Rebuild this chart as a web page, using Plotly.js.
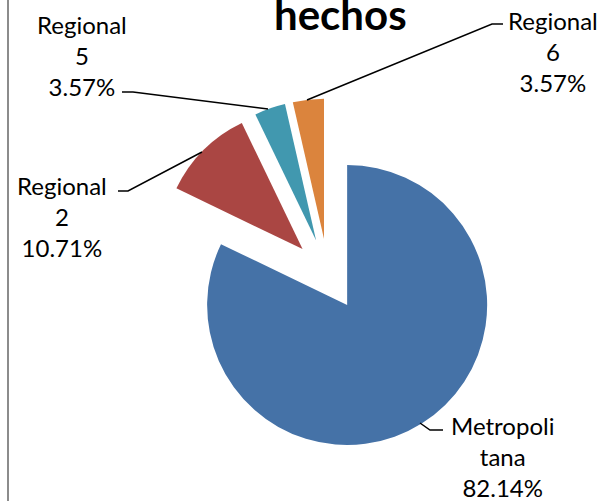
<!DOCTYPE html>
<html>
<head>
<meta charset="utf-8">
<script src="https://cdn.plot.ly/plotly-3.0.1.min.js"></script>
<style>html,body{margin:0;padding:0;background:#fff;}#chart{width:604px;height:501px;}</style>
</head>
<body>
<div id="chart"></div>
<script>
const categories = ["Metropolitana", "Regional 2", "Regional 5", "Regional 6"];
const labelTexts = ["Metropoli<br>tana", "Regional<br>2", "Regional<br>5", "Regional<br>6"];
const values = [23, 3, 1, 1];
const colors = ["#4572A7", "#AA4643", "#4198AF", "#DB843D"];
const titleText = "hechos";

const W = 604, H = 501;
const px = x => x / W;
const py = y => 1 - y / H;

const total = values.reduce((a, b) => a + b, 0);
const pct = values.map(v => (100 * v / total).toFixed(2) + "%");

// label block centres (pixels)
const labelPos = [[502, 456], [62, 216], [82, 56], [553, 51]];
const leaders = [
  [[443, 430], [430, 430], [420, 423]],
  [[118, 191], [128, 191], [202, 152]],
  [[122, 92], [133, 92], [268, 109]],
  [[503, 24], [492, 24], [307, 100]]
];

const annotations = categories.map((c, i) => ({
  xref: "paper", yref: "paper",
  x: px(labelPos[i][0]), y: py(labelPos[i][1]),
  xanchor: "center", yanchor: "middle",
  text: labelTexts[i] + "<br>" + pct[i],
  showarrow: false,
  align: "center",
  font: {family: "Lato, Carlito, sans-serif", size: 24, color: "#000"}
}));
annotations.push({
  xref: "paper", yref: "paper", x: px(340), y: py(14),
  xanchor: "center", yanchor: "middle",
  text: "<b>" + titleText + "</b>", showarrow: false,
  font: {family: "Lato, Carlito, sans-serif", size: 42, color: "#000"}
});

const shapes = leaders.map(pts => ({
  type: "path", xref: "paper", yref: "paper",
  path: "M" + pts.map(p => px(p[0]) + "," + py(p[1])).join(" L"),
  line: {color: "#000", width: 1.5}
}));
// frame line on the left
shapes.push({type: "line", xref: "paper", yref: "paper", x0: px(8), x1: px(8), y0: 0, y1: 1,
  line: {color: "#8c8c8c", width: 2}});

const trace = {
  type: "pie",
  labels: categories,
  values: values,
  sort: false,
  direction: "clockwise",
  rotation: 0,
  pull: [0.257, 0.257, 0.257, 0.257],
  marker: {colors: colors, line: {color: "#fff", width: 0}},
  textinfo: "none",
  hoverinfo: "none",
  domain: {x: [152 / W, 504 / W], y: [50.5 / H, 402.5 / H]}
};

Plotly.newPlot("chart", [trace], {
  width: W, height: H,
  margin: {l: 0, r: 0, t: 0, b: 0},
  paper_bgcolor: "#fff",
  showlegend: false,
  annotations: annotations,
  shapes: shapes
}, {displayModeBar: false, staticPlot: true});
</script>
</body>
</html>
